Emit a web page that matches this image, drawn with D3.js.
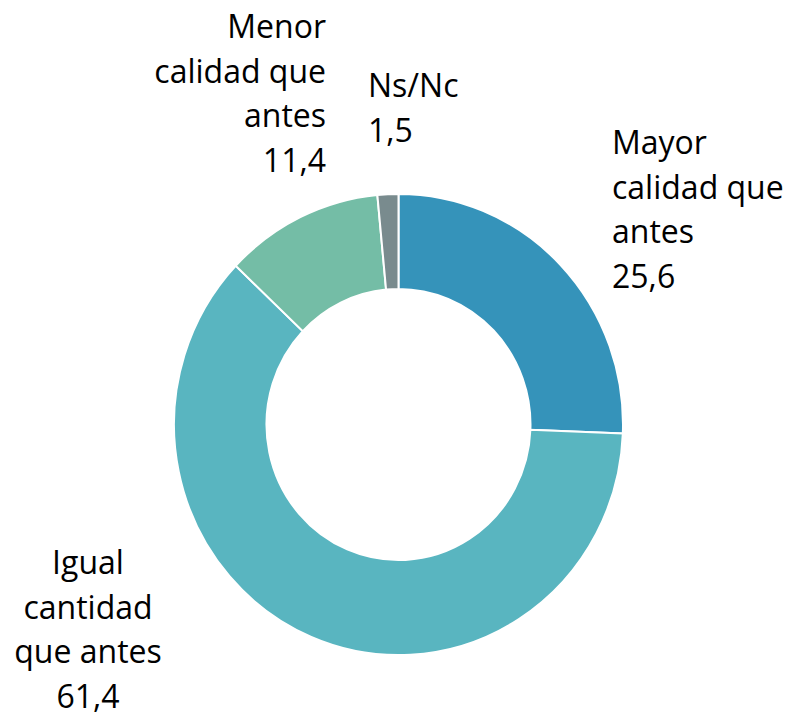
<!DOCTYPE html>
<html>
<head>
<meta charset="utf-8">
<script src="https://cdn.jsdelivr.net/npm/d3@7"></script>
<style>
  body { margin: 0; background: #fff; }
  text { font-family: "Open Sans", sans-serif; fill: #000; }
</style>
</head>
<body>
<svg id="chart" width="789" height="717"></svg>
<script>
// data
const categories = ["Mayor calidad que antes", "Igual cantidad que antes", "Menor calidad que antes", "Ns/Nc"];
const values = [25.6, 61.4, 11.4, 1.5];
const labelLines = [
    ["Mayor", "calidad que", "antes"],
    ["Igual", "cantidad", "que antes"],
    ["Menor", "calidad que", "antes"],
    ["Ns/Nc"]
];
const colors = ["#3593ba", "#59b5c0", "#74bda6", "#798b8e"];

// label placement (x, first baseline, anchor)
const labelPos = [
    {x: 612, y: 154, anchor: "start"},
    {x: 88, y: 574, anchor: "middle"},
    {x: 326, y: 38, anchor: "end"},
    {x: 368, y: 97, anchor: "start"}
];

const svg = d3.select("#chart");
const cx = 398.5, cy = 424.5;
const outer = 224.5, inner = 132;

const pie = d3.pie().sort(null).value(d => d.value);
const arc = d3.arc().innerRadius(inner).outerRadius(outer);

const slices = categories.map((c, i) => ({name: c, value: values[i], color: colors[i]}));

const g = svg.append("g")
    .attr("transform", `translate(${cx},${cy}) scale(1,1.027)`);

g.selectAll("path")
    .data(pie(slices))
    .join("path")
    .attr("d", arc)
    .attr("fill", d => d.data.color)
    .attr("stroke", "#fff")
    .attr("stroke-width", 2);

const fmt = v => d3.format(".1f")(v).replace(".", ",");
const lineH = 44.6;

slices.forEach((s, i) => {
    const p = labelPos[i];
    const t = svg.append("text")
        .attr("text-anchor", p.anchor)
        .attr("font-size", 32);
    labelLines[i].concat([fmt(s.value)]).forEach((line, j) => {
        t.append("tspan")
            .attr("x", p.x)
            .attr("y", p.y + j * lineH)
            .text(line);
    });
});
</script>
</body>
</html>
